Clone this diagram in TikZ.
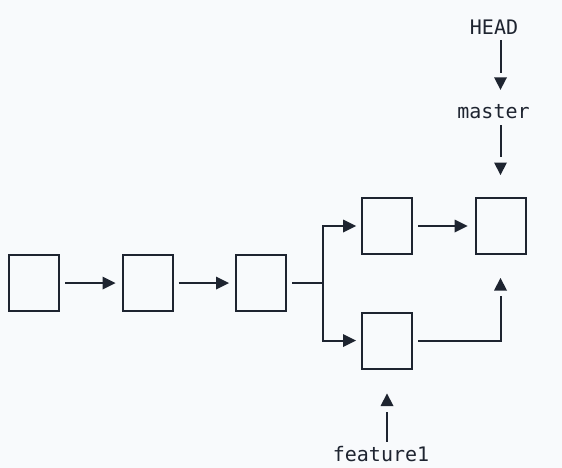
\documentclass[tikz,border=0pt]{standalone}
\usepackage{fontspec}
\newfontfamily\monofnt{DejaVu Sans Mono}
\usetikzlibrary{calc}
\definecolor{ink}{HTML}{1E2430}
\definecolor{bg}{HTML}{F8FAFC}
\newcommand\tipR[1]{\fill[ink] #1 -- ++(-13,-6.5) -- ++(0,13) -- cycle;}
\newcommand\tipD[1]{\fill[ink] #1 -- ++(-6.5,-12.5) -- ++(13,0) -- cycle;}
\newcommand\tipU[1]{\fill[ink] #1 -- ++(-6.5,12.5) -- ++(13,0) -- cycle;}
\begin{document}
\begin{tikzpicture}[x=1pt,y=-1pt,
 commit/.style={draw=ink,line width=2pt,minimum width=50pt,minimum height=56pt,inner sep=0pt,fill=bg},
 lbl/.style={font=\monofnt\fontsize{20}{24}\selectfont,text=ink,inner sep=0pt,text height=15pt,text depth=0pt,anchor=base},
 link/.style={draw=ink,line width=2pt,line join=miter},
]
\fill[bg] (0,0) rectangle (562,468);
\useasboundingbox (0,0) rectangle (562,468);
\node[commit] (b1) at (34,283) {};
\node[commit] (b2) at (147.5,283) {};
\node[commit] (b3) at (261,283) {};
\node[commit] (up) at (387,226) {};
\node[commit] (low) at (387,340.5) {};
\node[commit] (right) at (500.5,226) {};
\node[lbl] (head) at (494,35) {HEAD};
\node[lbl] (master) at (493.5,119) {master};
\node[lbl] (feat) at (381,461.5) {feature1};
\coordinate (fork) at (323,283);
% horizontal connectors
\draw[link,shorten <=5pt,shorten >=19pt] (b1.east) -- (b2.west);
\tipR{([xshift=-6pt]b2.west)}
\draw[link,shorten <=5pt,shorten >=19pt] (b2.east) -- (b3.west);
\tipR{([xshift=-6pt]b3.west)}
\draw[link,shorten <=5pt] (b3.east) -- (fork);
\draw[link,shorten >=18pt] (fork) |- (up.west);
\tipR{([xshift=-5pt]up.west)}
\draw[link,shorten >=18pt] (fork) |- (low.west);
\tipR{([xshift=-5pt]low.west)}
\draw[link,shorten <=5pt,shorten >=20pt] (up.east) -- (right.west);
\tipR{([xshift=-7pt]right.west)}
\draw[link,shorten <=5pt,shorten >=41pt] (low.east) -| (right.south);
\tipU{([yshift=-23pt]right.south)}
% labels
\draw[link,shorten <=5pt,shorten >=31pt] (right.north |- head.south) -- (right.north |- master.north);
\tipD{([yshift=14pt]right.north |- master.north)}
\draw[link,shorten <=6pt,shorten >=40pt] (right.north |- master.south) -- (right.north);
\tipD{([yshift=22pt]right.north)}
\draw[link,shorten <=4.5pt,shorten >=42pt] (low.south |- feat.north) -- (low.south);
\tipU{([yshift=-24pt]low.south)}
\end{tikzpicture}
\end{document}
